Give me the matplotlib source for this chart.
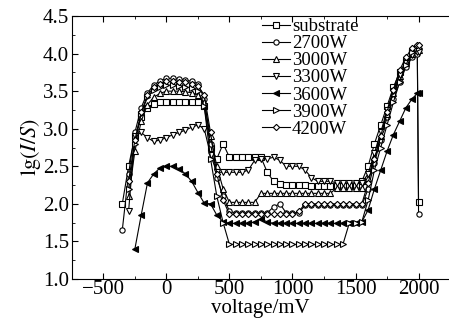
import numpy as np
import matplotlib.pyplot as plt
from matplotlib.ticker import MultipleLocator

plt.rcParams['font.family'] = ['Liberation Serif', 'DejaVu Serif']
plt.rcParams['mathtext.fontset'] = 'stix'

nan = np.nan

voltage = [-350, -300, -250, -200, -150, -100, -50, 0, 50, 100,
           150, 200, 250, 300, 350, 400, 450, 500, 550, 600,
           650, 700, 750, 800, 850, 900, 950, 1000, 1050, 1100,
           1150, 1200, 1250, 1300, 1350, 1400, 1450, 1500, 1550, 1600,
           1650, 1700, 1750, 1800, 1850, 1900, 1950, 1990, 2000]

substrate = [2.00, 2.50, 2.90, 3.15, 3.28, 3.33, 3.35, 3.35, 3.35, 3.36,
             3.36, 3.36, 3.35, 3.30, 2.75, 2.60, 2.80, 2.62, 2.62, 2.63,
             2.63, 2.62, 2.62, 2.42, 2.30, 2.27, 2.25, 2.25, 2.25, 2.25,
             2.24, 2.24, 2.24, 2.24, 2.24, 2.24, 2.24, 2.24, 2.30, 2.50,
             2.80, 3.05, 3.30, 3.55, 3.75, 3.90, 4.02, 4.05, 2.02]

w2700 = [1.65, 2.40, 2.95, 3.28, 3.48, 3.58, 3.64, 3.67, 3.67, 3.66,
         3.65, 3.63, 3.60, 3.40, 2.80, 2.35, 2.10, 1.90, 1.88, 1.88,
         1.88, 1.88, 1.88, 1.88, 1.96, 2.00, 1.88, 1.88, 1.88, 1.98,
         1.98, 1.98, 1.98, 1.98, 1.98, 1.98, 1.98, 1.98, 1.98, 2.20,
         2.55, 2.85, 3.15, 3.40, 3.62, 3.82, 3.95, 4.00, 1.86]

w3000 = [nan, 2.10, 2.70, 3.10, 3.32, 3.42, 3.47, 3.50, 3.50, 3.50,
         3.49, 3.48, 3.45, 3.35, 2.90, 2.50, 2.20, 2.02, 2.02, 2.02,
         2.02, 2.02, 2.14, 2.14, 2.14, 2.14, 2.14, 2.14, 2.14, 2.14,
         2.14, 2.14, 2.14, 2.14, 2.21, 2.21, 2.21, 2.21, 2.21, 2.35,
         2.62, 2.90, 3.20, 3.48, 3.70, 3.88, 4.00, 4.05, 4.05]

w3300 = [nan, 1.90, 2.90, 2.95, 2.88, 2.83, 2.85, 2.88, 2.92, 2.95,
         2.98, 3.02, 3.05, 3.00, 2.65, 2.42, 2.42, 2.42, 2.42, 2.42,
         2.45, 2.58, 2.60, 2.60, 2.62, 2.58, 2.50, 2.50, 2.50, 2.45,
         2.35, 2.30, 2.30, 2.30, 2.28, 2.28, 2.28, 2.28, 2.28, 2.40,
         2.68, 2.95, 3.25, 3.50, 3.72, 3.88, 3.98, 4.02, 4.02]

w3600 = [nan, nan, 1.40, 1.85, 2.28, 2.40, 2.48, 2.50, 2.50, 2.47,
         2.40, 2.30, 2.15, 2.01, 2.00, 1.85, 1.76, 1.74, 1.74, 1.74,
         1.74, 1.76, 1.80, 1.76, 1.74, 1.74, 1.74, 1.74, 1.74, 1.74,
         1.74, 1.74, 1.74, 1.74, 1.74, 1.74, 1.74, 1.74, 1.76, 1.92,
         2.20, 2.45, 2.70, 2.92, 3.10, 3.28, 3.40, 3.47, 3.47]

w3900 = [nan, 2.20, 2.80, 3.20, 3.42, 3.52, 3.56, 3.58, 3.58, 3.57,
         3.56, 3.54, 3.50, 3.30, 2.60, 2.10, 1.75, 1.46, 1.46, 1.46,
         1.46, 1.46, 1.46, 1.46, 1.46, 1.46, 1.46, 1.46, 1.46, 1.46,
         1.46, 1.46, 1.46, 1.46, 1.46, 1.46, 1.74, 1.74, 1.76, 2.05,
         2.45, 2.75, 3.05, 3.35, 3.62, 3.85, 4.02, 4.08, 4.08]

w4200 = [nan, 2.30, 2.85, 3.22, 3.45, 3.55, 3.60, 3.63, 3.63, 3.62,
         3.62, 3.60, 3.57, 3.45, 2.95, 2.40, 2.05, 1.86, 1.86, 1.86,
         1.86, 1.86, 1.86, 1.86, 1.86, 1.86, 1.86, 1.86, 1.90, 2.00,
         2.00, 2.00, 2.00, 2.00, 2.00, 2.00, 2.00, 2.00, 2.00, 2.28,
         2.60, 2.90, 3.22, 3.52, 3.78, 3.95, 4.08, 4.12, 4.12]

labels = ['substrate', '2700W', '3000W', '3300W', '3600W', '3900W', '4200W']
series = [substrate, w2700, w3000, w3300, w3600, w3900, w4200]
markers = ['s', 'o', '^', 'v', '<', '>', 'D']

fig = plt.figure(figsize=(4.49, 3.22), dpi=100)
ax = fig.add_axes([0.160, 0.1335, 0.8396, 0.8168])

for vals, lab, m in zip(series, labels, markers):
    face = 'black' if lab == '3600W' else 'white'
    ms = 3.2 if m == 'D' else 3.8
    ax.plot(voltage, vals, color='black', lw=0.8, marker=m, ms=ms,
            mfc=face, mec='black', mew=0.8, label=lab)

ax.set_xlim(-750, 2240)
ax.set_ylim(1.0, 4.5)
ax.xaxis.set_major_locator(MultipleLocator(500))
ax.xaxis.set_minor_locator(MultipleLocator(250))
ax.yaxis.set_major_locator(MultipleLocator(0.5))
ax.yaxis.set_minor_locator(MultipleLocator(0.25))
ax.yaxis.set_major_formatter(plt.FormatStrFormatter('%.1f'))
ax.tick_params(which='both', direction='in', top=True, right=False, pad=2)
ax.tick_params(axis='x', labelsize=15, pad=1)
ax.tick_params(axis='y', labelsize=15)
ax.tick_params(which='major', length=4)
ax.tick_params(which='minor', length=2)
ax.spines['right'].set_visible(False)
for s in ax.spines.values():
    s.set_linewidth(0.8)

ax.set_xlabel('voltage/mV', fontsize=15, labelpad=0)
ax.set_ylabel(r'$\mathrm{lg}(I/S)$', fontsize=16, labelpad=0)

ax.legend(loc='upper left', bbox_to_anchor=(262 / 449, 1 - 18 / 322),
          bbox_transform=fig.transFigure, frameon=False, fontsize=13.5,
          labelspacing=0.0, handlelength=1.5, handletextpad=0.1,
          borderpad=0, borderaxespad=0)

fig.savefig('out.png', dpi=100)
